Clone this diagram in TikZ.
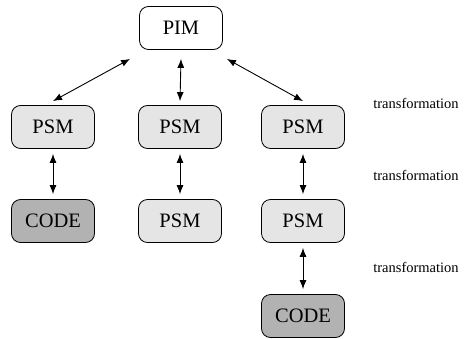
\documentclass[tikz,border=0pt]{standalone}
\usepackage{fontspec}
\setmainfont{Liberation Serif}
\usetikzlibrary{arrows.meta}
\tikzset{
	model/.style={draw, line width=0.8pt, rounded corners=9pt, minimum width=83pt, minimum height=43pt, inner sep=0pt, font=\rmfamily\fontsize{20.5}{22}\selectfont},
	psm/.style={model, fill=black!10},
	code/.style={model, fill=black!30},
	trans/.style={font=\rmfamily\fontsize{14.5}{16}\selectfont},
	link/.style={line width=0.9pt, {Latex[length=9pt,width=7pt]}-{Latex[length=9pt,width=7pt]}}
}
\begin{document}
\begin{tikzpicture}[x=1pt,y=1pt]
		\useasboundingbox (0,0) rectangle (465,338);
		%modelle
		\node[model] (pim) at (181,310) {PIM};
		\node[psm] (psmA) at (53,211) {PSM};
		\node[psm] (psmB) at (180,211) {PSM};
		\node[psm] (psmC) at (303,211) {PSM};
		\node[code] (codeA) at (53,117) {CODE};
		\node[psm] (psmD) at (180,117) {PSM};
		\node[psm] (psmE) at (303,117) {PSM};
		\node[code] (codeE) at (303,22) {CODE};
		%beschriftung
		\node[trans] (tA) at (416,235) {transformation};
		\node[trans] (tB) at (416,163) {transformation};
		\node[trans] (tC) at (416,71) {transformation};
		%pfeile
		\draw[link] ([xshift=-9pt,yshift=-9pt]pim.south west) -- ([yshift=4pt]psmA.north);
		\draw[link] ([yshift=-9pt]pim.south) -- ([yshift=4pt]psmB.north);
		\draw[link] ([xshift=4pt,yshift=-9pt]pim.south east) -- ([yshift=4pt]psmC.north);
		\draw[link, shorten <=5pt, shorten >=5pt] (psmA) -- (codeA);
		\draw[link, shorten <=5pt, shorten >=5pt] (psmB) -- (psmD);
		\draw[link, shorten <=5pt, shorten >=5pt] (psmC) -- (psmE);
		\draw[link, shorten <=5pt, shorten >=5pt] (psmE) -- (codeE);
\end{tikzpicture}
\end{document}
